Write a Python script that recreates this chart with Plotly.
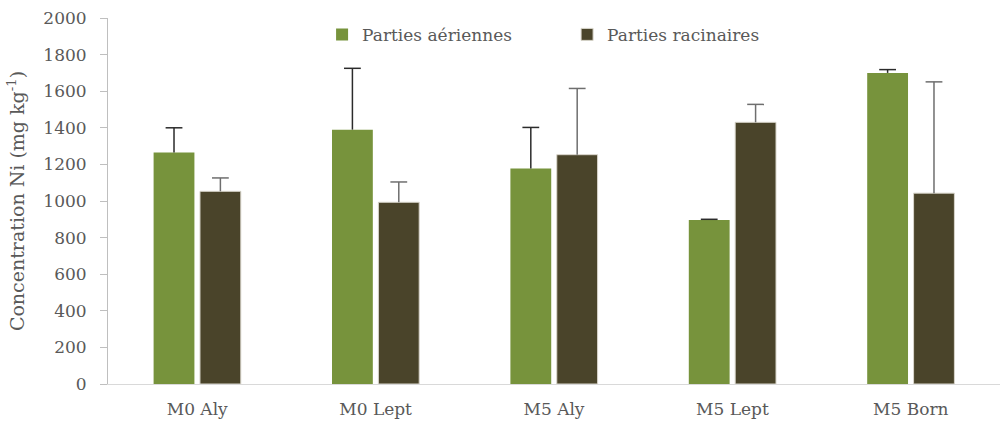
import plotly.graph_objects as go

categories = ["M0 Aly", "M0 Lept", "M5 Aly", "M5 Lept", "M5 Born"]
aeriennes = [1265, 1390, 1177, 896, 1700]
aeriennes_err = [135, 335, 225, 4, 18]
racinaires = [1053, 993, 1253, 1430, 1043]
racinaires_err = [73, 111, 362, 98, 608]

font = "DejaVu Serif"
grey = "#595959"

series = [
    ("Parties aériennes", aeriennes, aeriennes_err, "#77933C", "#2b2b2b", None),
    ("Parties racinaires", racinaires, racinaires_err, "#4A442A", "#6e6e6e", "#d9d6cc"),
]

fig = go.Figure()
for i, (name, vals, errs, col, ecol, edge) in enumerate(series):
    fig.add_trace(go.Bar(
        x=categories, y=vals, name=name, offsetgroup=str(i),
        marker=dict(color=col, line=dict(color=edge or col, width=1 if edge else 0)),
    ))
    # upper-only error bar: line from bar top up to a cap marker
    tops = [v + e for v, e in zip(vals, errs)]
    fig.add_trace(go.Scatter(
        x=categories, y=tops, mode="markers", offsetgroup=str(i),
        showlegend=False, hoverinfo="skip",
        marker=dict(symbol="line-ew", size=12, line=dict(color=ecol, width=1.5)),
        error_y=dict(type="data", array=[0] * 5, arrayminus=errs,
                     color=ecol, thickness=1.5, width=0),
    ))

fig.update_layout(
    width=1007, height=426,
    margin=dict(l=108, r=7, t=18, b=42),
    plot_bgcolor="white", paper_bgcolor="white",
    barmode="group", bargap=0.48, bargroupgap=0.12,
    scattermode="group", scattergap=0.48,
    font=dict(family=font, size=16, color=grey),
    legend=dict(orientation="h", x=0.24, y=0.954, xanchor="left", yanchor="middle",
                font=dict(size=17, color=grey), traceorder="normal", entrywidth=200,
                bgcolor="rgba(0,0,0,0)"),
    yaxis=dict(range=[0, 2000], dtick=200, showgrid=False, zeroline=False,
               showline=True, linecolor="#bfbfbf", linewidth=1,
               ticks="outside", tickcolor="#bfbfbf", ticklen=7,
               tickfont=dict(size=17), automargin=True, ticklabelstandoff=10,
               title=dict(text="Concentration Ni (mg kg<sup>-1</sup>)",
                          font=dict(size=19), standoff=13)),
    xaxis=dict(showgrid=False, showline=True, linecolor="#d9d9d9", linewidth=1,
               ticks="", tickfont=dict(size=17), automargin=False,
               ticklabelstandoff=10),
)

fig.write_html("out.html", config={"displayModeBar": False},
               post_script="document.body.style.margin='0';")
